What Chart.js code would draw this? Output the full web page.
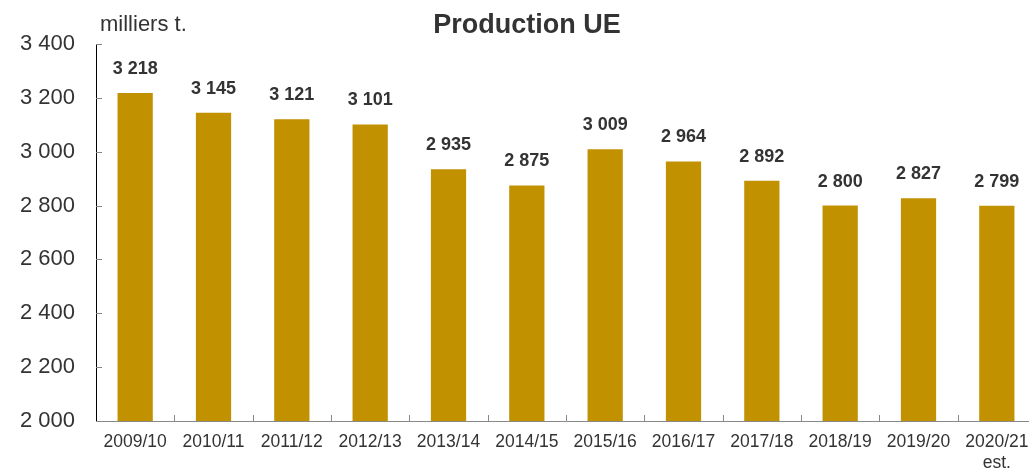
<!DOCTYPE html>
<html>
<head>
<meta charset="utf-8">
<script src="https://cdn.jsdelivr.net/npm/chart.js@4/dist/chart.umd.min.js"></script>
<style>
  html, body { margin: 0; padding: 0; background: #fff; overflow: hidden; }
  /* la zone du graphique déborde un peu à droite, comme dans l'original */
  #wrap { width: 1036px; height: 474px; }
</style>
</head>
<body>
<div id="wrap"><canvas id="chart"></canvas></div>
<script>
const categories = ['2009/10', '2010/11', '2011/12', '2012/13', '2013/14', '2014/15', '2015/16', '2016/17', '2017/18', '2018/19', '2019/20', ['2020/21', 'est.']];
const production = [3218, 3145, 3121, 3101, 2935, 2875, 3009, 2964, 2892, 2800, 2827, 2799];
const yMin = 2000;
const yMax = 3400;
const yStep = 200;

const TEXT = '#333333';
const FONT = "'Liberation Sans', Arial, sans-serif";

// espace comme séparateur de milliers
const fmt = (v) => String(v).replace(/\B(?=(\d{3})+(?!\d))/g, ' ');

// titre, unité, petites graduations et étiquettes des barres
const decorations = {
  id: 'decorations',
  afterDatasetsDraw(chart) {
    const { ctx, chartArea, scales } = chart;
    ctx.save();

    // graduations vers l'intérieur
    ctx.strokeStyle = '#888888';
    ctx.lineWidth = 1;
    scales.y.ticks.forEach((t, i) => {
      const y = Math.round(scales.y.getPixelForTick(i)) + 0.5;
      ctx.beginPath();
      ctx.moveTo(chartArea.left, y);
      ctx.lineTo(chartArea.left + 6, y);
      ctx.stroke();
    });
    const half = (scales.x.getPixelForValue(1) - scales.x.getPixelForValue(0)) / 2;
    for (let i = 1; i < categories.length; i++) {
      const x = Math.round(scales.x.getPixelForValue(i) - half) + 0.5;
      ctx.beginPath();
      ctx.moveTo(x, chartArea.bottom);
      ctx.lineTo(x, chartArea.bottom - 6);
      ctx.stroke();
    }

    // étiquettes de valeurs
    ctx.fillStyle = TEXT;
    ctx.font = 'bold 18px ' + FONT;
    ctx.textAlign = 'center';
    ctx.textBaseline = 'middle';
    chart.getDatasetMeta(0).data.forEach((bar, i) => {
      ctx.fillText(fmt(production[i]), bar.x, bar.y - 24);
    });

    // titre
    ctx.font = 'bold 27px ' + FONT;
    ctx.fillText('Production UE', 527, 26);

    // unité
    ctx.font = '22px ' + FONT;
    ctx.textAlign = 'left';
    ctx.fillText('milliers t.', 100, 25);

    ctx.restore();
  }
};

new Chart(document.getElementById('chart'), {
  type: 'bar',
  data: {
    labels: categories,
    datasets: [{
      data: production,
      backgroundColor: '#C19100',
      borderWidth: 0,
      barPercentage: 0.9,
      categoryPercentage: 0.5
    }]
  },
  options: {
    responsive: true,
    maintainAspectRatio: false,
    animation: false,
    layout: { padding: { top: 44, right: 0, bottom: 0, left: 0 } },
    plugins: {
      legend: { display: false },
      tooltip: { enabled: false },
      title: { display: false }
    },
    scales: {
      x: {
        offset: true,
        grid: { display: false, drawTicks: false },
        border: { display: true, color: '#888888', width: 1 },
        ticks: {
          color: TEXT,
          font: { family: FONT, size: 17.5, lineHeight: 1.2 },
          padding: 11,
          maxRotation: 0,
          autoSkip: false
        },
        afterFit: (s) => {
          s.height = 53;
          s.paddingLeft = 0;
          s.paddingRight = 0;
        }
      },
      y: {
        min: yMin,
        max: yMax,
        grid: { display: false, drawTicks: false },
        border: { display: true, color: '#000000', width: 1 },
        ticks: {
          stepSize: yStep,
          color: TEXT,
          font: { family: FONT, size: 22 },
          padding: 21,
          callback: (v) => fmt(v)
        },
        afterFit: (s) => { s.width = 96; }
      }
    }
  },
  plugins: [decorations]
});
</script>
</body>
</html>
